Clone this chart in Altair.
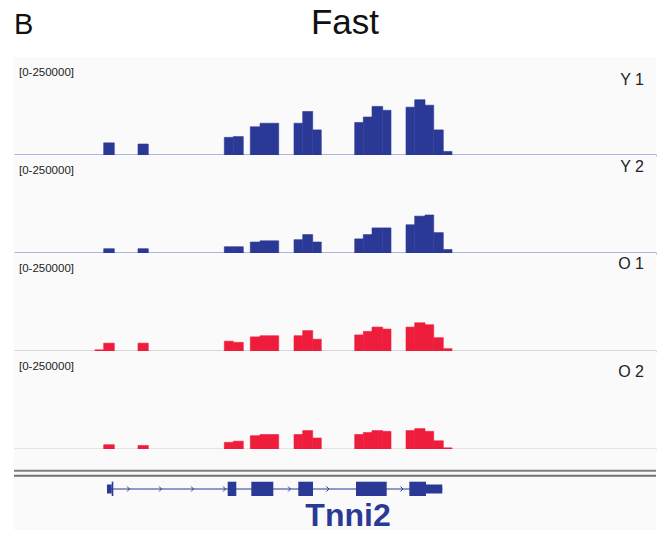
import altair as alt
import pandas as pd

# ---------------- data ----------------
panel_letter = "B"
title_text = "Fast"
range_label = "[0-250000]"
scale_max = 250000
x_domain = [0, 6420]          # genomic window (bp, relative)

tracks = ["Y 1", "Y 2", "O 1", "O 2"]

bin_start = [810, 897, 1240, 2103, 2193, 2363, 2460, 2800, 2887, 2987,
             3407, 3493, 3580, 3687, 3920, 4007, 4110, 4197, 4293]
bin_end = [897, 1003, 1343, 2193, 2293, 2460, 2647, 2887, 2987, 3073,
           3493, 3580, 3687, 3770, 4007, 4110, 4197, 4293, 4380]

values_y1 = [0, 31000, 28000, 45000, 47000, 72000, 81000, 81000, 111000, 64000,
             83000, 97000, 124000, 114000, 122000, 141000, 127000, 64000, 9000]
values_y2 = [0, 11000, 11000, 16000, 16000, 28000, 31000, 34000, 47000, 28000,
             36000, 47000, 64000, 64000, 72000, 94000, 97000, 52000, 9000]
values_o1 = [3000, 20000, 20000, 25000, 22000, 36000, 39000, 39000, 52000, 30000,
             41000, 50000, 61000, 56000, 61000, 72000, 67000, 34000, 6000]
values_o2 = [0, 11000, 9000, 17000, 20000, 34000, 37000, 37000, 47000, 28000,
             37000, 42000, 47000, 45000, 47000, 52000, 45000, 21000, 3000]

gene_name = "Tnni2"
gene_start = [930]
gene_end = [4283]
exon_start = [977, 2137, 2373, 2843, 3420, 3953]
exon_end = [993, 2223, 2593, 2990, 3727, 4120]
utr_start = [930, 4120]
utr_end = [977, 4283]
chevron_pos = [1143, 1463, 1783, 2103, 2753, 3137, 3877]

# ---------------- styling ----------------
FONT = "Liberation Sans"
BLUE = "#2B3996"
RED = "#EE1D3C"
PANEL_BG = "#FAFAFA"
W = 642
TRACK_H = 98

track_values = {"Y 1": values_y1, "Y 2": values_y2, "O 1": values_o1, "O 2": values_o2}
track_color = {"Y 1": BLUE, "Y 2": BLUE, "O 1": RED, "O 2": RED}
track_base = {"Y 1": "#6470C8", "Y 2": "#6470C8", "O 1": "#B5B5B5", "O 2": "#CDCDCD"}
track_label_y = {"Y 1": 28, "Y 2": 17, "O 1": 16, "O 2": 26}

rows = []
for t in tracks:
    for s, e, v in zip(bin_start, bin_end, track_values[t]):
        rows.append({"track": t, "start": s, "end": e, "value": v, "base": 0})
bars_df = pd.DataFrame(rows)

xs = alt.Scale(domain=x_domain, nice=False, zero=False)
ys = alt.Scale(domain=[0, scale_max], nice=False, zero=True)


def track_chart(name):
    d = bars_df[(bars_df.track == name) & (bars_df.value > 0)]
    bars = alt.Chart(d).mark_rect(
        color=track_color[name], stroke=track_color[name], strokeWidth=0.6
    ).encode(
        x=alt.X("start:Q", scale=xs,
                axis=alt.Axis(labels=False, ticks=False, grid=False, title=None,
                              domainColor=track_base[name], domainWidth=2,
                              minExtent=0, maxExtent=0)),
        x2="end:Q",
        y=alt.Y("value:Q", scale=ys, axis=None),
        y2="base:Q",
    )
    rng = alt.Chart(pd.DataFrame({"t": [range_label]})).mark_text(
        align="left", baseline="alphabetic", font=FONT, fontSize=11.5, color="#222222"
    ).encode(x=alt.value(5), y=alt.value(18.5), text="t:N")
    lab = alt.Chart(pd.DataFrame({"t": [name]})).mark_text(
        align="right", baseline="alphabetic", font=FONT, fontSize=16, color="#222222"
    ).encode(x=alt.value(630), y=alt.value(track_label_y[name]), text="t:N")
    return alt.layer(bars, rng, lab).properties(
        width=W, height=TRACK_H,
        view=alt.ViewBackground(fill=PANEL_BG, stroke=None))


header = alt.layer(
    alt.Chart(pd.DataFrame({"t": [panel_letter]})).mark_text(
        align="left", baseline="alphabetic", font=FONT, fontSize=29, color="#111111",
        clip=True
    ).encode(x=alt.value(0), y=alt.value(25.5), text="t:N"),
    alt.Chart(pd.DataFrame({"t": [title_text]})).mark_text(
        align="center", baseline="alphabetic", font=FONT, fontSize=35, color="#111111",
        clip=True
    ).encode(x=alt.value(331), y=alt.value(25.5), text="t:N"),
).properties(width=W, height=49, view=alt.ViewBackground(stroke=None))

gene_df = pd.DataFrame({"start": gene_start, "end": gene_end})
exon_df = pd.DataFrame({"start": exon_start, "end": exon_end})
utr_df = pd.DataFrame({"start": utr_start, "end": utr_end})
chev_df = pd.DataFrame({"pos": chevron_pos})
one = pd.DataFrame({"k": [0]})

gene = alt.layer(
    alt.Chart(one).mark_rule(color="#7F7F7F", strokeWidth=2).encode(
        x=alt.value(0), x2=alt.value(W), y=alt.value(21.8)),
    alt.Chart(one).mark_rule(color="#6F6F6F", strokeWidth=2).encode(
        x=alt.value(0), x2=alt.value(W), y=alt.value(26.8)),
    alt.Chart(gene_df).mark_rule(color=BLUE, strokeWidth=1).encode(
        x=alt.X("start:Q", scale=xs, axis=None), x2="end:Q", y=alt.value(40)),
    alt.Chart(utr_df).mark_rect(color=BLUE).encode(
        x=alt.X("start:Q", scale=xs, axis=None), x2="end:Q",
        y=alt.value(35.5), y2=alt.value(44.5)),
    alt.Chart(exon_df).mark_rect(color=BLUE).encode(
        x=alt.X("start:Q", scale=xs, axis=None), x2="end:Q",
        y=alt.value(32.7), y2=alt.value(47)),
    alt.Chart(chev_df).mark_point(
        shape="M-0.5,-1L0.5,0L-0.5,1", filled=False, color=BLUE, size=25,
        strokeWidth=1, opacity=1).encode(
        x=alt.X("pos:Q", scale=xs, axis=None), y=alt.value(40)),
    alt.Chart(pd.DataFrame({"t": [gene_name]})).mark_text(
        align="center", baseline="alphabetic", font=FONT, fontSize=32,
        fontWeight="bold", color=BLUE).encode(
        x=alt.value(334), y=alt.value(76.5), text="t:N"),
).properties(width=W, height=81, view=alt.ViewBackground(fill=PANEL_BG, stroke=None))

chart = alt.vconcat(
    header, *[track_chart(t) for t in tracks], gene,
    spacing=0, bounds="flush",
).properties(
    padding={"left": 5, "top": 0, "right": 5, "bottom": 0},
    background="white",
).configure_view(stroke=None)

chart.save("out.html", embed_options={"renderer": "svg", "actions": False})
